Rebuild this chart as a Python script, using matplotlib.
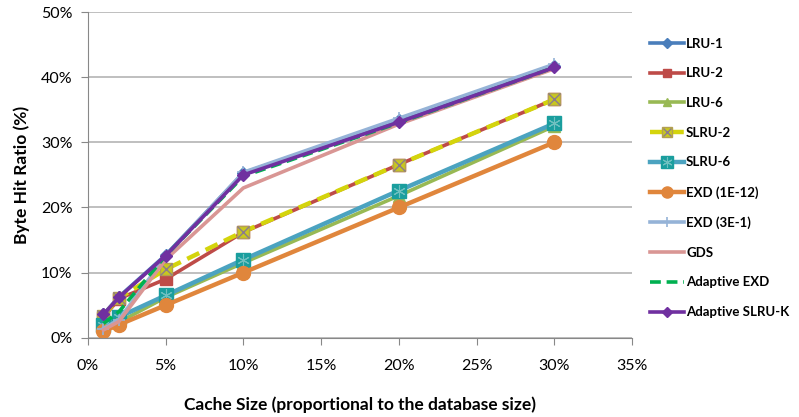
import matplotlib.pyplot as plt
from matplotlib.legend_handler import HandlerTuple
from matplotlib.ticker import FuncFormatter

plt.rcParams['font.family'] = ['Lato', 'DejaVu Sans']

## Donnees (byte hit ratio en %)
cache = [1, 2, 5, 10, 20, 30]   # taille du cache (% de la base)

lru1 = [3.6, 6.3, 12.7, 25.3, 33.5, 41.8]
lru2 = [3.1, 6.0, 9.0, 16.2, 26.6, 36.6]
lru6 = [1.5, 2.4, 6.2, 11.5, 21.8, 32.5]
slru2 = [3.4, 6.1, 10.5, 16.3, 26.6, 36.6]
slru6 = [2.0, 3.2, 6.5, 12.0, 22.6, 32.9]
exd_12 = [1.0, 2.0, 5.0, 10.0, 20.0, 30.0]
exd_3 = [1.4, 2.8, 12.5, 25.4, 33.7, 42.0]
gds = [1.2, 2.5, 12.0, 23.0, 32.8, 41.3]
adapt_exd = [2.2, 4.0, 12.6, 24.8, 33.0, 41.5]
adapt_slruk = [3.6, 6.2, 12.6, 25.0, 33.1, 41.5]

lw = 2.6
fig = plt.figure(figsize=(7.99, 4.17), dpi=100)
ax = fig.add_axes([0.110, 0.190, 0.681, 0.781])

h = []
h.append(ax.plot(cache, lru1, color='#4A7EBB', lw=lw, marker='D', ms=6, label='LRU-1')[0])
h.append(ax.plot(cache, lru2, color='#BE4B48', lw=lw, marker='s', ms=8, label='LRU-2')[0])
h.append(ax.plot(cache, lru6, color='#98B954', lw=lw, marker='^', ms=8, label='LRU-6')[0])
l1 = ax.plot(cache, slru2, color='#D4D40C', lw=lw + 0.6, ls=(0, (3, 1.6)), marker='s', ms=9,
             mfc='#C8C81E', mec='#B4A050', label='SLRU-2')[0]
l2 = ax.plot(cache, slru2, ls='none', marker='x', ms=8, mec='#8C7C8C', mew=1)[0]
h.append((l1, l2))
s1 = ax.plot(cache, slru6, color='#4BA3C0', lw=lw + 0.6, marker='s', ms=10, mfc='#1A9E9E',
             mec='#1A9E9E', label='SLRU-6')[0]
s2 = ax.plot(cache, slru6, ls='none', marker=(6, 2, 0), ms=9, mec='#6FC0C0', mew=0.8)[0]
h.append((s1, s2))
h.append(ax.plot(cache, exd_12, color='#E0863C', lw=lw + 0.6, marker='o', ms=10, label='EXD (1E-12)')[0])
h.append(ax.plot(cache, exd_3, color='#95B3D7', lw=lw, marker='+', ms=9, mew=1.2, label='EXD (3E-1)')[0])
h.append(ax.plot(cache, gds, color='#D99694', lw=lw, label='GDS')[0])
h.append(ax.plot(cache, adapt_exd, color='#00B050', lw=lw, ls=(0, (3, 1.6)), label='Adaptive EXD')[0])
h.append(ax.plot(cache, adapt_slruk, color='#7030A0', lw=lw, marker='D', ms=6, label='Adaptive SLRU-K')[0])

ax.set_xlim(0, 35)
ax.set_ylim(0, 50)
ax.set_xticks(range(0, 36, 5))
ax.set_yticks(range(0, 51, 10))
ax.xaxis.set_major_formatter(FuncFormatter(lambda v, p: '%d%%' % v))
ax.yaxis.set_major_formatter(FuncFormatter(lambda v, p: '%d%%' % v))
ax.tick_params(labelsize=11.5, length=5, color='#888888', pad=6)
ax.tick_params(axis='x', pad=10)
ax.yaxis.grid(True, color='#B4B4B4', lw=1.2)
ax.set_axisbelow(True)
for s in ['top', 'right']:
    ax.spines[s].set_visible(False)
for s in ['left', 'bottom']:
    ax.spines[s].set_color('#888888')

ax.set_xlabel('Cache Size (proportional to the database size)', fontsize=12.5,
              fontweight='bold', labelpad=17)
ax.set_ylabel('Byte Hit Ratio (%)', fontsize=12.5, fontweight='bold', labelpad=8)

labels = ['LRU-1', 'LRU-2', 'LRU-6', 'SLRU-2', 'SLRU-6', 'EXD (1E-12)', 'EXD (3E-1)',
          'GDS', 'Adaptive EXD', 'Adaptive SLRU-K']
fig.legend(h, labels, loc='upper left', bbox_to_anchor=(0.800, 0.935), frameon=False,
           handler_map={tuple: HandlerTuple(ndivide=1, pad=0)},
           prop={'weight': 'bold', 'size': 9.5}, handlelength=2.6, handletextpad=0.15,
           labelspacing=1.34, markerscale=0.8, borderpad=0.3)

fig.savefig('out.png', dpi=100)
